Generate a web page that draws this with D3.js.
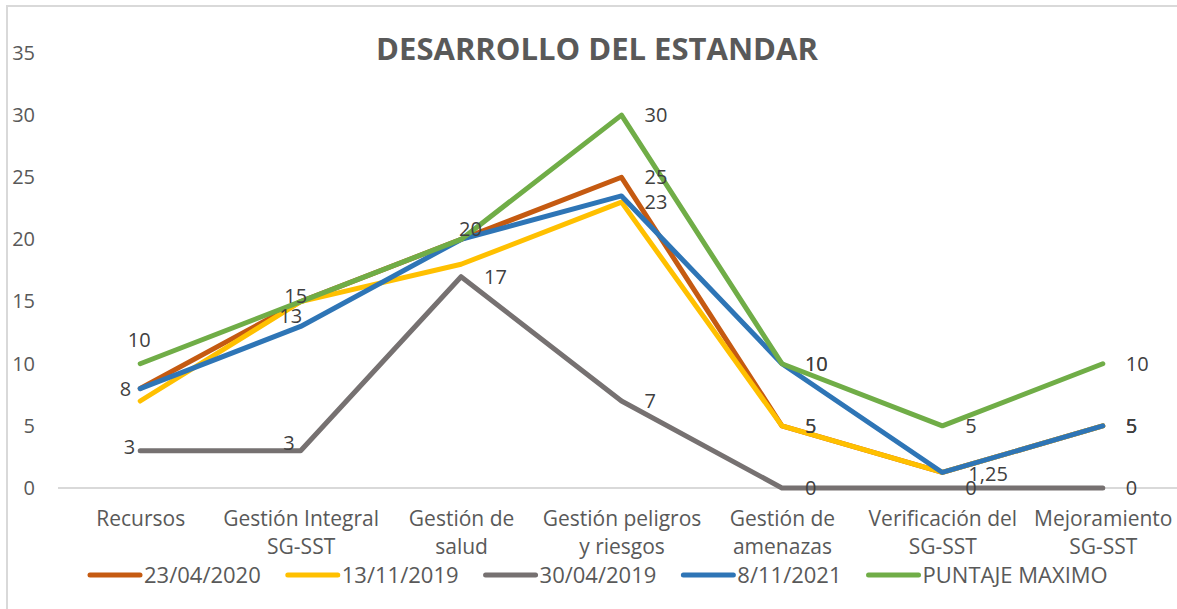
<!DOCTYPE html>
<html>
<head>
<meta charset="utf-8">
<script src="https://cdn.jsdelivr.net/npm/d3@7"></script>
<style>
  body { margin: 0; background: #fff; }
  text { font-family: "Open Sans", "Noto Sans", sans-serif; }
</style>
</head>
<body>
<svg id="chart" width="1177" height="609"></svg>
<script>
// categorías del eje x (salto de línea = "\n")
const categories = [
    'Recursos',
    'Gestión Integral\nSG-SST',
    'Gestión de\nsalud',
    'Gestión peligros\ny riesgos',
    'Gestión de\namenazas',
    'Verificación del\nSG-SST',
    'Mejoramiento\nSG-SST'
];
const seriesNames = ['23/04/2020', '13/11/2019', '30/04/2019', '8/11/2021', 'PUNTAJE MAXIMO'];
const seriesColors = ['#C55A11', '#FFC000', '#767171', '#2E75B6', '#70AD47'];

const values2020 = [8, 15, 20, 25, 5, 1.25, 5];
const values2019nov = [7, 15, 18, 23, 5, 1.25, 5];
const values2019abr = [3, 3, 17, 7, 0, 0, 0];
const values2021 = [8, 13, 20, 23.5, 10, 1.25, 5];
const valuesMax = [10, 15, 20, 30, 10, 5, 10];

const yTicks = [0, 5, 10, 15, 20, 25, 30, 35];

// qué puntos llevan etiqueta, por serie
const labelled = [
    [0, 3, 4, 6],
    [3, 4, 6],
    [0, 1, 2, 3, 4, 5, 6],
    [1, 4, 5, 6],
    [0, 1, 2, 3, 4, 5, 6]
];

(function () {
    const svg = d3.select('#chart');
    const W = 1177, H = 609;
    const series = [values2020, values2019nov, values2019abr, values2021, valuesMax]
        .map((v, i) => ({ name: seriesNames[i], color: seriesColors[i], values: v }));

    const x = d3.scalePoint().domain(categories).range([60, 1183]).padding(0.5);
    const y = d3.scaleLinear().domain([0, 35]).range([488, 53]);

    // marco del gráfico
    svg.append('rect')
        .attr('x', 7).attr('y', 6)
        .attr('width', W + 20).attr('height', H + 20)
        .attr('fill', 'none')
        .attr('stroke', '#d9d9d9')
        .attr('stroke-width', 2);

    // título
    svg.append('text')
        .attr('x', 597).attr('y', 60)
        .attr('text-anchor', 'middle')
        .style('font-size', '31px')
        .style('font-weight', 'bold')
        .attr('fill', '#595959')
        .text('DESARROLLO DEL ESTANDAR');

    // eje y
    const yAxis = svg.append('g')
        .attr('transform', 'translate(36,0)')
        .call(d3.axisLeft(y).tickValues(yTicks).tickSize(0).tickPadding(1));
    yAxis.select('.domain').remove();
    yAxis.selectAll('text')
        .attr('fill', '#595959')
        .style('font-size', '20px')
        .style('font-family', '"Open Sans", sans-serif');

    // línea del cero
    svg.append('line')
        .attr('x1', 58).attr('x2', 1183)
        .attr('y1', y(0)).attr('y2', y(0))
        .attr('stroke', '#d9d9d9')
        .attr('stroke-width', 2);

    // etiquetas de categorías
    const xAxis = svg.append('g')
        .attr('transform', `translate(0,${y(0)})`)
        .call(d3.axisBottom(x).tickSize(0).tickFormat(''));
    xAxis.select('.domain').remove();
    xAxis.selectAll('.tick').each(function (d) {
        const t = d3.select(this).append('text')
            .attr('text-anchor', 'middle')
            .attr('fill', '#595959')
            .style('font-size', '21px');
        d.split('\n').forEach((line, i) => {
            t.append('tspan').attr('x', 0).attr('y', 38 + i * 28).text(line);
        });
    });

    // líneas
    const line = d3.line()
        .x((d, i) => x(categories[i]))
        .y(d => y(d));

    svg.append('g').selectAll('path')
        .data(series)
        .enter()
        .append('path')
        .attr('d', d => line(d.values))
        .attr('fill', 'none')
        .attr('stroke', d => d.color)
        .attr('stroke-width', 5)
        .attr('stroke-linejoin', 'round')
        .attr('stroke-linecap', 'round');

    // etiquetas de datos
    const fmt = v => String(v).replace('.', ',');
    const place = (s, i) => {
        if (i === 0) {
            if (s === 4) return { anchor: 'middle', dx: -1, dy: -24 };
            return { anchor: 'end', dx: s === 2 ? -5 : -9, dy: s === 2 ? -4 : 0 };
        }
        if (i === 1) {
            if (s === 4) return { anchor: 'middle', dx: -5, dy: -6 };
            if (s === 3) return { anchor: 'middle', dx: -10, dy: -10 };
            return { anchor: 'end', dx: -6, dy: -8 };
        }
        if (i === 2 && s === 4) return { anchor: 'start', dx: -2, dy: -10 };
        if (i === 5 && s === 3) return { anchor: 'start', dx: 26, dy: 2 };
        return { anchor: 'start', dx: 23, dy: 0 };
    };
    const lbl = svg.append('g');
    series.forEach((s, si) => {
        labelled[si].forEach(i => {
            const p = place(si, i);
            lbl.append('text')
                .attr('x', x(categories[i]) + p.dx)
                .attr('y', y(s.values[i]) + p.dy)
                .attr('dy', '0.35em')
                .attr('text-anchor', p.anchor)
                .attr('fill', '#404040')
                .style('font-size', '20px')
                .text(fmt(s.values[i]));
        });
    });

    // leyenda
    const legend = svg.append('g').attr('transform', 'translate(90,575)');
    let lx = 0;
    series.forEach(s => {
        const g = legend.append('g').attr('transform', `translate(${lx},0)`);
        g.append('line')
            .attr('x1', 0).attr('x2', 50)
            .attr('stroke', s.color)
            .attr('stroke-width', 5)
            .attr('stroke-linecap', 'round');
        const t = g.append('text')
            .attr('x', 54).attr('dy', '0.35em')
            .attr('fill', '#595959')
            .style('font-size', '22px')
            .text(s.name);
        lx += 54 + t.node().getComputedTextLength() + 27;
    });
}());
</script>
</body>
</html>
